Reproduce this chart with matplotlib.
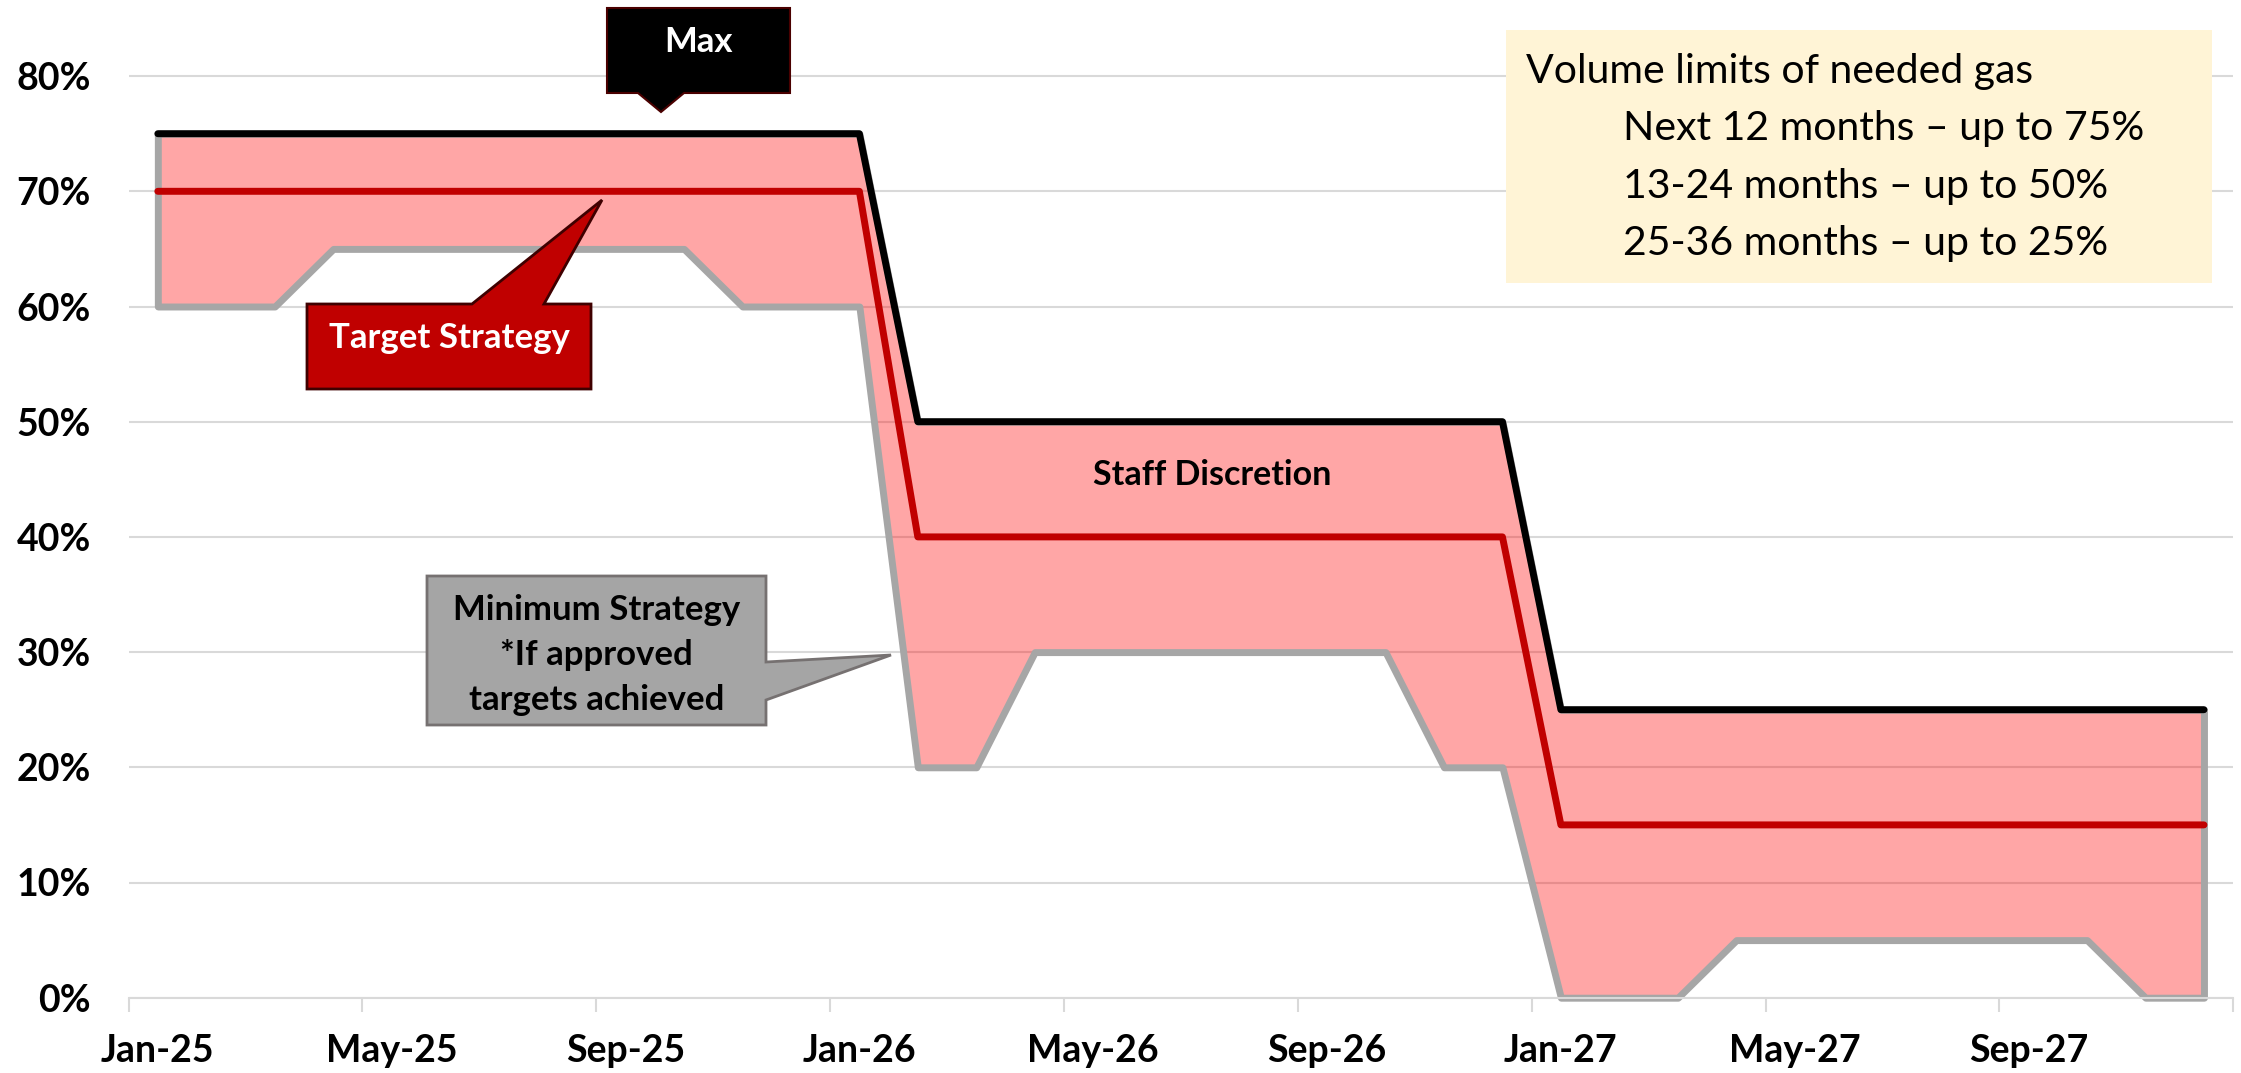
import numpy as np
import matplotlib
matplotlib.use("Agg")
import matplotlib.pyplot as plt
from matplotlib.patches import Polygon, Rectangle
from matplotlib.ticker import PercentFormatter

plt.rcParams['font.family'] = ['Lato', 'DejaVu Sans']

# monthly points, Jan-25 .. Dec-27
months = ['Jan-25', 'Feb-25', 'Mar-25', 'Apr-25', 'May-25', 'Jun-25', 'Jul-25', 'Aug-25',
          'Sep-25', 'Oct-25', 'Nov-25', 'Dec-25', 'Jan-26', 'Feb-26', 'Mar-26', 'Apr-26',
          'May-26', 'Jun-26', 'Jul-26', 'Aug-26', 'Sep-26', 'Oct-26', 'Nov-26', 'Dec-26',
          'Jan-27', 'Feb-27', 'Mar-27', 'Apr-27', 'May-27', 'Jun-27', 'Jul-27', 'Aug-27',
          'Sep-27', 'Oct-27', 'Nov-27', 'Dec-27']

max_pct = [75, 75, 75, 75, 75, 75, 75, 75, 75, 75, 75, 75, 75,
           50, 50, 50, 50, 50, 50, 50, 50, 50, 50, 50,
           25, 25, 25, 25, 25, 25, 25, 25, 25, 25, 25, 25]
target_pct = [70, 70, 70, 70, 70, 70, 70, 70, 70, 70, 70, 70, 70,
              40, 40, 40, 40, 40, 40, 40, 40, 40, 40, 40,
              15, 15, 15, 15, 15, 15, 15, 15, 15, 15, 15, 15]
min_pct = [60, 60, 60, 65, 65, 65, 65, 65, 65, 65, 60, 60, 60,
           20, 20, 30, 30, 30, 30, 30, 30, 30, 20, 20,
           0, 0, 0, 5, 5, 5, 5, 5, 5, 5, 0, 0]

label_months = ['Jan-25', 'May-25', 'Sep-25', 'Jan-26', 'May-26', 'Sep-26', 'Jan-27', 'May-27', 'Sep-27']
y_ticks = [0, 10, 20, 30, 40, 50, 60, 70, 80]

info_title = 'Volume limits of needed gas'
info_lines = ['Next 12 months \u2013 up to 75%', '13-24 months \u2013 up to 50%', '25-36 months \u2013 up to 25%']

W, H = 2241, 1073
fig = plt.figure(figsize=(W / 100, H / 100), dpi=100)
ax = fig.add_axes([128.6 / W, (H - 997.7) / H, (2233.2 - 128.6) / W, 997.7 / H])

x = np.arange(len(months))
ax.fill_between(x, min_pct, max_pct, facecolor=(1, 0, 0, 0.35), edgecolor='#A6A6A6',
                linewidth=5.0, zorder=2, clip_on=False)
ax.plot(x, target_pct, color='#C00000', lw=5.0, zorder=3, solid_capstyle='round')
ax.plot(x, max_pct, color='black', lw=5.0, zorder=4, solid_capstyle='round')

ax.set_xlim(-0.5, len(months) - 0.5)
ax.set_ylim(0, 997.7 / 11.52)
ax.set_yticks(y_ticks)
ax.yaxis.set_major_formatter(PercentFormatter(decimals=0))
ax.grid(axis='y', color='#D9D9D9', lw=1.5)
ax.set_axisbelow(True)

ax.set_xticks([months.index(m) for m in label_months])
ax.set_xticklabels(label_months)
ax.set_xticks(np.arange(-0.5, len(months), 4), minor=True)
ax.tick_params(axis='x', which='major', length=0, pad=26, labelsize=27)
ax.tick_params(axis='x', which='minor', length=10, width=1.5, color='#D9D9D9', direction='out')
ax.tick_params(axis='y', length=0, pad=27, labelsize=27)
for lab in ax.get_xticklabels() + ax.get_yticklabels():
    lab.set_fontweight('bold')

for s in ['top', 'right', 'left']:
    ax.spines[s].set_visible(False)
ax.spines['bottom'].set_color('#D9D9D9')
ax.spines['bottom'].set_linewidth(1.5)


def px(pts):
    return [(a / W, 1 - b / H) for a, b in pts]


# callouts
fig.patches.append(Polygon(px([(607, 8), (790, 8), (790, 93), (684, 93), (661, 112), (638, 93), (607, 93)]),
                           closed=True, facecolor='black', edgecolor='#4A0000', lw=1.5,
                           transform=fig.transFigure))
fig.text(698.5 / W, 1 - 52 / H, 'Max', color='white', fontsize=25, fontweight='bold',
         ha='center', va='baseline')

fig.patches.append(Polygon(px([(307, 304), (472, 304), (602, 200), (544, 304), (591, 304), (591, 389), (307, 389)]),
                           closed=True, facecolor='#C00000', edgecolor='#3F0000', lw=2,
                           transform=fig.transFigure))
fig.text(449 / W, 1 - 348 / H, 'Target Strategy', color='white', fontsize=25, fontweight='bold',
         ha='center', va='baseline')

fig.patches.append(Polygon(px([(427, 576), (766, 576), (766, 662), (891, 655), (766, 700), (766, 725), (427, 725)]),
                           closed=True, facecolor='#A5A5A5', edgecolor='#767171', lw=2,
                           transform=fig.transFigure))
for txt, yb in zip(['Minimum Strategy', '*If approved', 'targets achieved'], [620, 665, 710]):
    fig.text(596.5 / W, 1 - yb / H, txt, color='black', fontsize=25, fontweight='bold',
             ha='center', va='baseline')

fig.text(1212 / W, 1 - 485 / H, 'Staff Discretion', color='black', fontsize=24.5, fontweight='bold',
         ha='center', va='baseline')

# info box
fig.patches.append(Rectangle((1506 / W, 1 - 283 / H), (2212 - 1506) / W, (283 - 30) / H,
                             facecolor='#FFF4D6', edgecolor='none', transform=fig.transFigure))
fig.text(1526 / W, 1 - 83 / H, info_title, fontsize=29.5, ha='left', va='baseline')
for txt, yb in zip(info_lines, [140, 198, 255]):
    fig.text(1623 / W, 1 - yb / H, txt, fontsize=29.5, ha='left', va='baseline')

fig.savefig('out.png', dpi=100)
